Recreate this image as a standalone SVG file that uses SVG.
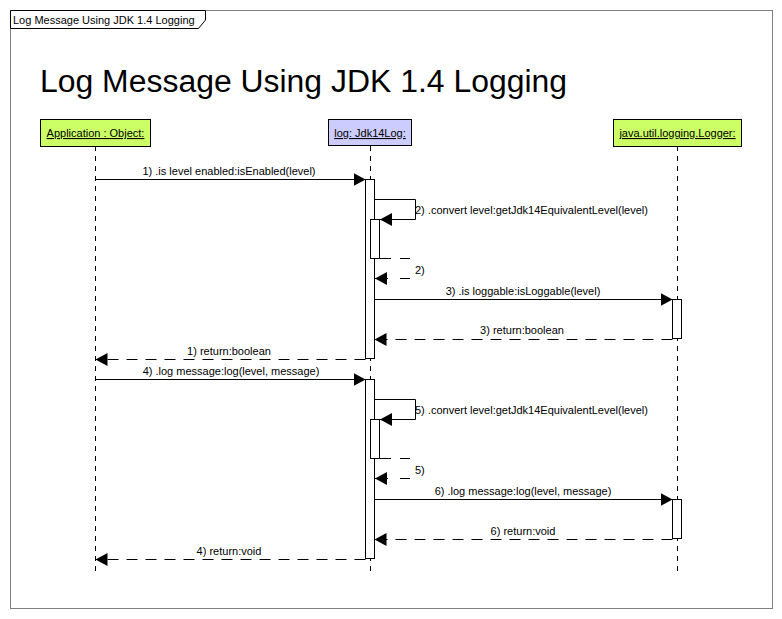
<svg xmlns="http://www.w3.org/2000/svg" width="782" height="619" viewBox="0 0 782 619">
<style>
text{font-family:"Liberation Sans",Arial,sans-serif;fill:#000}
.lbl{font-size:11px}
.mid{text-anchor:middle}
.box text{font-size:11px;text-anchor:middle;text-decoration:underline}
.life{stroke:#000;stroke-width:1;stroke-dasharray:5,5;fill:none}
.act{fill:#fff;stroke:#000;stroke-width:1}
.msg{stroke:#000;stroke-width:1;fill:none}
.ret{stroke:#000;stroke-width:1;fill:none;stroke-dasharray:11,8}
</style>
<defs>
<marker id="ah" markerWidth="12" markerHeight="13" refX="12" refY="6.5" orient="auto" markerUnits="userSpaceOnUse">
<path d="M0,0 L12,6.5 L0,13 Z" fill="#000"/>
</marker>
</defs>
<rect width="782" height="619" fill="#fff"/>
<g id="frame">
<rect x="10.5" y="10.5" width="762" height="598" fill="none" stroke="#808080"/>
<polygon points="10.5,10.5 205.5,10.5 205.5,20 198.5,28.5 10.5,28.5" fill="#fff" stroke="#000"/>
<text x="13" y="24" class="lbl">Log Message Using JDK 1.4 Logging</text>
<text x="40" y="92" style="font-size:31px" textLength="527" lengthAdjust="spacingAndGlyphs">Log Message Using JDK 1.4 Logging</text>
</g>
<g id="lifelines">
<line class="life" x1="95.5" y1="146" x2="95.5" y2="573"/>
<line class="life" x1="370.5" y1="146" x2="370.5" y2="573"/>
<line class="life" x1="677.5" y1="146" x2="677.5" y2="573"/>
</g>
<g id="app" class="box">
<rect x="40.5" y="119.5" width="110" height="27" fill="#ccff66" stroke="#000"/>
<text x="95.5" y="137">Application : Object:</text>
</g>
<g id="log" class="box">
<rect x="328.5" y="119.5" width="83" height="26" fill="#ccccff" stroke="#000"/>
<text x="370" y="137">log: Jdk14Log:</text>
</g>
<g id="logger" class="box">
<rect x="613.5" y="119.5" width="128" height="27" fill="#ccff66" stroke="#000"/>
<text x="677.5" y="137">java.util.logging.Logger:</text>
</g>
<g id="activations">
<rect class="act" x="365.5" y="179.5" width="9" height="179"/>
<rect class="act" x="370.5" y="219.5" width="9" height="39"/>
<rect class="act" x="672.5" y="299.5" width="9" height="39"/>
<rect class="act" x="365.5" y="379.5" width="9" height="179"/>
<rect class="act" x="370.5" y="419.5" width="9" height="39"/>
<rect class="act" x="672.5" y="499.5" width="9" height="39"/>
</g>
<g id="connectors">
<line class="msg" x1="95.5" y1="179.5" x2="365.5" y2="179.5" marker-end="url(#ah)"/>
<polyline class="msg" points="374.5,199.5 415.5,199.5 415.5,219.5 380,219.5" marker-end="url(#ah)"/>
<line class="msg" x1="380" y1="258.5" x2="391" y2="258.5"/>
<line class="msg" x1="400" y1="258.5" x2="410" y2="258.5"/>
<line class="msg" x1="400" y1="278.5" x2="410" y2="278.5"/>
<line class="msg" x1="388" y1="278.5" x2="375" y2="278.5" marker-end="url(#ah)"/>
<line class="msg" x1="374.5" y1="299.5" x2="672.5" y2="299.5" marker-end="url(#ah)"/>
<line class="ret" x1="672.5" y1="339.5" x2="374.5" y2="339.5" marker-end="url(#ah)"/>
<line class="ret" x1="365.5" y1="359.5" x2="95.5" y2="359.5" marker-end="url(#ah)"/>
<line class="msg" x1="95.5" y1="379.5" x2="365.5" y2="379.5" marker-end="url(#ah)"/>
<polyline class="msg" points="374.5,399.5 415.5,399.5 415.5,419.5 380,419.5" marker-end="url(#ah)"/>
<line class="msg" x1="380" y1="458.5" x2="391" y2="458.5"/>
<line class="msg" x1="400" y1="458.5" x2="410" y2="458.5"/>
<line class="msg" x1="400" y1="478.5" x2="410" y2="478.5"/>
<line class="msg" x1="388" y1="478.5" x2="375" y2="478.5" marker-end="url(#ah)"/>
<line class="msg" x1="374.5" y1="499.5" x2="672.5" y2="499.5" marker-end="url(#ah)"/>
<line class="ret" x1="672.5" y1="539.5" x2="374.5" y2="539.5" marker-end="url(#ah)"/>
<line class="ret" x1="365.5" y1="559.5" x2="95.5" y2="559.5" marker-end="url(#ah)"/>
</g>
<g id="labels" class="lbl">
<text class="lbl mid" x="229" y="175">1) .is level enabled:isEnabled(level)</text>
<text class="lbl" x="415" y="214">2) .convert level:getJdk14EquivalentLevel(level)</text>
<text class="lbl" x="415" y="274">2)</text>
<text class="lbl mid" x="523" y="295">3) .is loggable:isLoggable(level)</text>
<text class="lbl mid" x="522" y="334">3) return:boolean</text>
<text class="lbl mid" x="229" y="355">1) return:boolean</text>
<text class="lbl mid" x="231" y="375">4) .log message:log(level, message)</text>
<text class="lbl" x="415" y="414">5) .convert level:getJdk14EquivalentLevel(level)</text>
<text class="lbl" x="415" y="474">5)</text>
<text class="lbl mid" x="523" y="495">6) .log message:log(level, message)</text>
<text class="lbl mid" x="523" y="535">6) return:void</text>
<text class="lbl mid" x="229" y="555">4) return:void</text>
</g>
</svg>
